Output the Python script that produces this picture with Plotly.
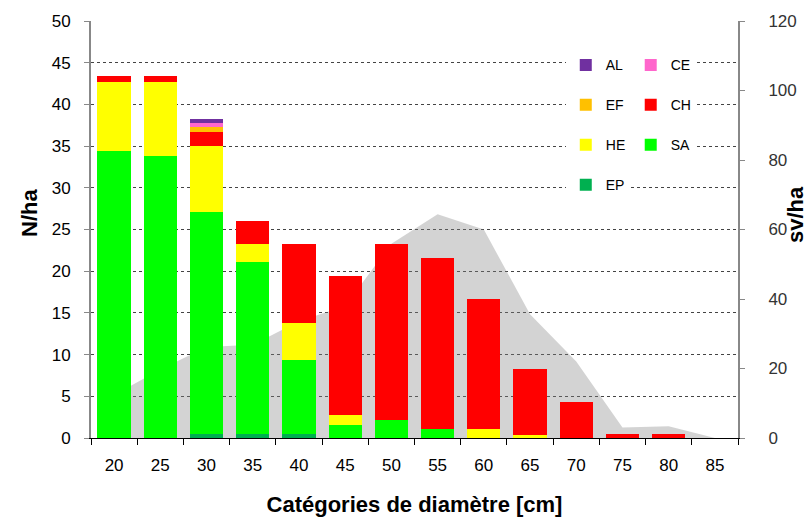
import plotly.graph_objects as go

categories = ["20", "25", "30", "35", "40", "45", "50", "55", "60", "65", "70", "75", "80", "85"]

EP = [0, 0, 0.45, 0.45, 0.45, 0, 0, 0, 0, 0, 0, 0, 0, 0]
SA = [34.4, 33.8, 26.7, 20.6, 8.9, 1.6, 2.2, 1.1, 0, 0, 0, 0, 0, 0]
HE = [8.3, 8.9, 7.9, 2.2, 4.4, 1.1, 0, 0, 1.05, 0.4, 0, 0, 0, 0]
CH = [0.7, 0.7, 1.6, 2.75, 9.55, 16.7, 21.1, 20.5, 15.6, 7.85, 4.33, 0.45, 0.45, 0]
EF = [0, 0, 0.6, 0, 0, 0, 0, 0, 0, 0, 0, 0, 0, 0]
CE = [0, 0, 0.5, 0, 0, 0, 0, 0, 0, 0, 0, 0, 0, 0]
AL = [0, 0, 0.5, 0, 0, 0, 0, 0, 0, 0, 0, 0, 0, 0]

SV = [12.4, 19.7, 26.2, 26.8, 33.6, 38.0, 55.9, 64.4, 60.0, 35.6, 22.0, 3.0, 3.4, 0]

left_ticks = [0, 5, 10, 15, 20, 25, 30, 35, 40, 45, 50]
right_ticks = [0, 20, 40, 60, 80, 100, 120]

FONT = "Liberation Sans, Arial, sans-serif"

# name, values, colour, legend column, rank inside column
series = [
    ("EP", EP, "#00B050", "legend", 4),
    ("SA", SA, "#00FF00", "legend2", 3),
    ("HE", HE, "#FFFF00", "legend", 3),
    ("CH", CH, "#FF0000", "legend2", 2),
    ("EF", EF, "#FFC000", "legend", 2),
    ("CE", CE, "#FF66CC", "legend2", 1),
    ("AL", AL, "#7030A0", "legend", 1),
]

fig = go.Figure()

# grey area (sv/ha) on the primary axis (drawn beneath the bar overlay)
fig.add_trace(go.Scatter(
    x=categories, y=SV, mode="none", fill="tozeroy",
    fillcolor="rgba(128,128,128,0.35)", yaxis="y", showlegend=False,
    name="sv/ha", hoverinfo="skip",
))

for name, vals, color, leg, rank in series:
    fig.add_trace(go.Bar(
        x=categories, y=vals, name=name, yaxis="y2",
        marker=dict(color=color, line=dict(width=0)),
        legend=leg, legendgroup=name, legendrank=rank,
    ))

fig.update_layout(
    width=812, height=517,
    margin=dict(l=91, r=74, t=21, b=79),
    paper_bgcolor="white", plot_bgcolor="white",
    barmode="stack", bargap=0.28,
    font=dict(family=FONT, size=17, color="#000000"),
    xaxis=dict(
        type="category", categoryorder="array", categoryarray=categories,
        tickson="boundaries", ticks="outside", ticklen=6, tickcolor="#000000",
        showline=True, linecolor="#000000", linewidth=1,
        showgrid=False, ticklabelstandoff=12, automargin=False,
        tickfont=dict(size=17),
        title=dict(text="Catégories de diamètre [cm]", standoff=22,
                   font=dict(size=22, weight="bold")),
    ),
    yaxis=dict(
        side="right", range=[0, 120], tickvals=right_ticks,
        ticks="outside", ticklen=5, tickcolor="#888888",
        showline=True, linecolor="#888888", linewidth=2,
        showgrid=False, zeroline=False, ticklabelstandoff=20, automargin=False,
        tickfont=dict(size=17, color="#333333"),
    ),
    yaxis2=dict(
        overlaying="y", side="left", range=[0, 50], tickvals=left_ticks,
        ticks="outside", ticklen=5, tickcolor="#888888",
        showline=True, linecolor="#888888", linewidth=2,
        showgrid=True, gridcolor="#444444", griddash="dot", gridwidth=1,
        zeroline=False, ticklabelstandoff=10, automargin=False,
        tickfont=dict(size=17),
    ),
    legend=dict(
        x=0.7338, y=0.932, xanchor="left", yanchor="top",
        bgcolor="white", borderwidth=0,
        traceorder="grouped", tracegroupgap=18.7,
        font=dict(size=14), itemwidth=30,
    ),
    legend2=dict(
        x=0.8342, y=0.932, xanchor="left", yanchor="top",
        bgcolor="white", borderwidth=0,
        traceorder="grouped", tracegroupgap=18.7,
        font=dict(size=14), itemwidth=30,
    ),
    annotations=[
        dict(text="N/ha", xref="paper", yref="paper", x=-0.0944, y=0.5396,
             xanchor="center", yanchor="middle", textangle=-90, showarrow=False,
             font=dict(size=22, weight="bold")),
        dict(text="sv/ha", xref="paper", yref="paper", x=1.0898, y=0.535,
             xanchor="center", yanchor="middle", textangle=-90, showarrow=False,
             font=dict(size=22, weight="bold")),
    ],
)

fig.write_html("out.html", config={"displayModeBar": False},
               post_script="document.body.style.margin='0px';")
